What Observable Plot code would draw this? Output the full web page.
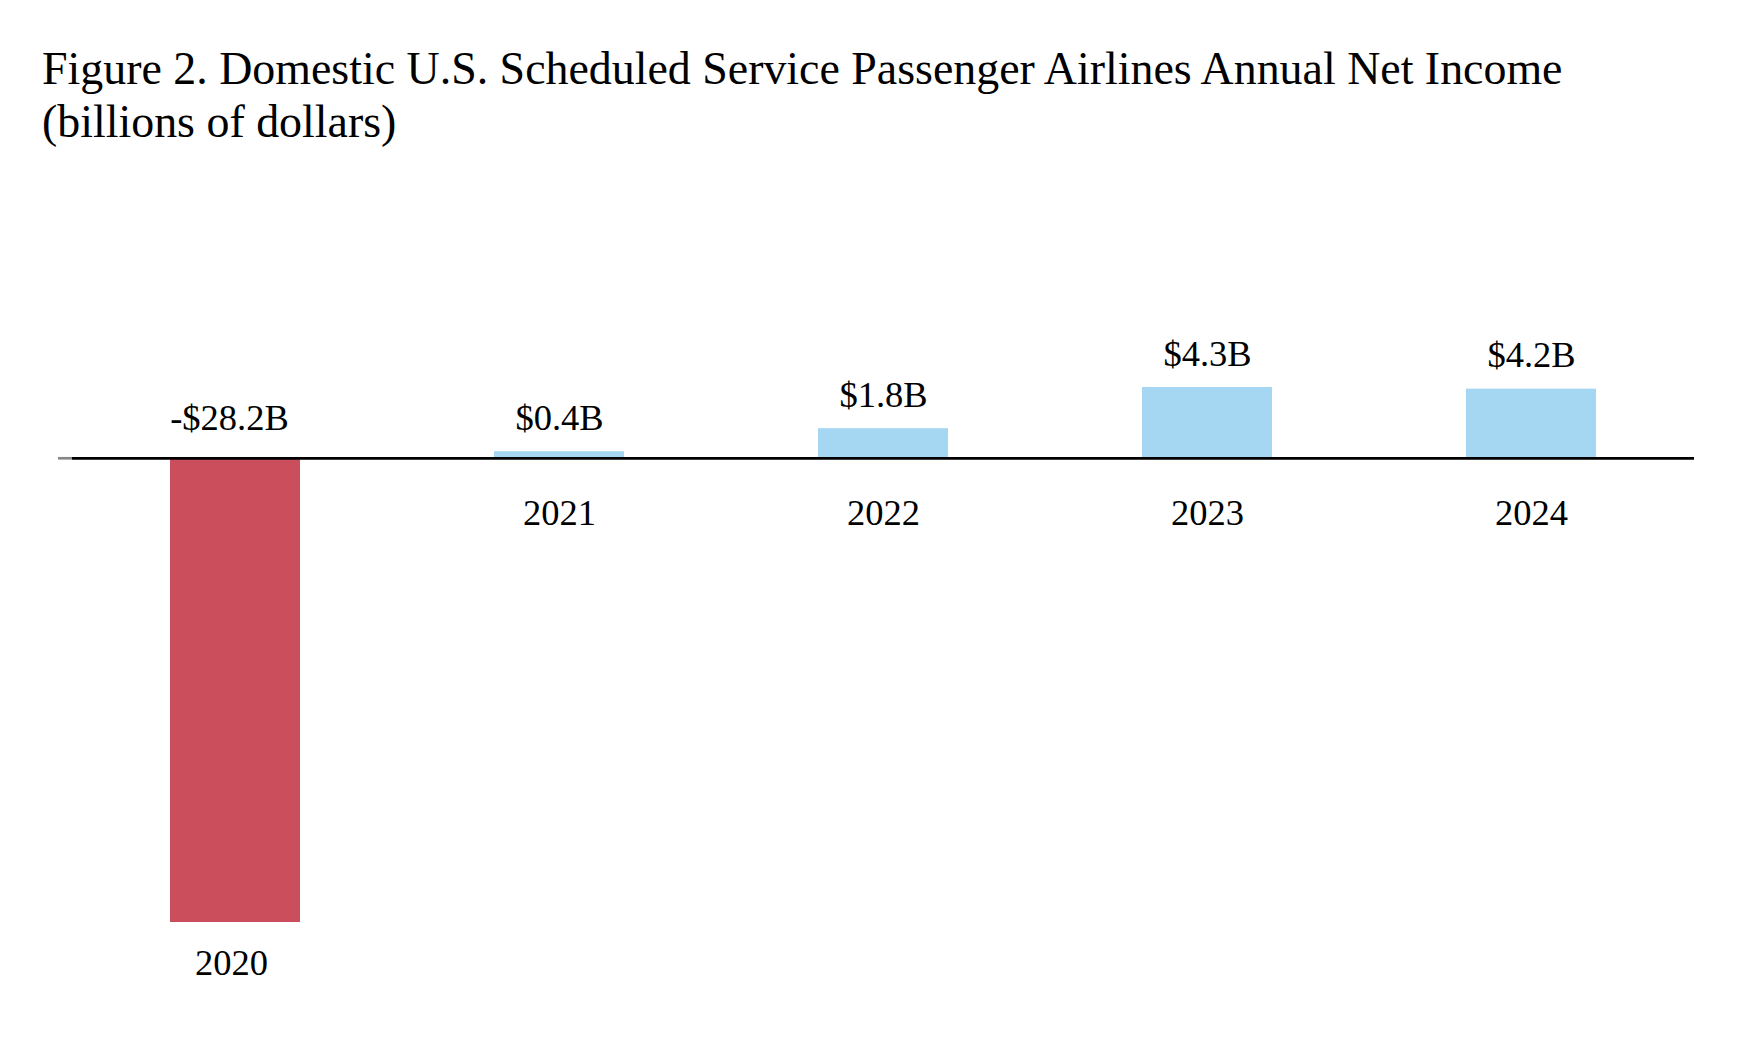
<!DOCTYPE html>
<html>
<head>
<meta charset="utf-8">
<script src="https://cdn.jsdelivr.net/npm/d3@7"></script>
<script src="https://cdn.jsdelivr.net/npm/@observablehq/plot@0.6"></script>
<style>
  html, body { margin: 0; padding: 0; background: #fff; }
  body { width: 1740px; height: 1037px; overflow: hidden; font-family: "Liberation Serif", "Times New Roman", serif; }
  #title { padding: 42px 0 0 42px; font-size: 45.9px; line-height: 53px; color: #000; height: 104px; }
  #chart svg { display: block; }
  #chart svg text { font-family: "Liberation Serif", "Times New Roman", serif !important; }
</style>
</head>
<body>
<div id="title">Figure 2. Domestic U.S. Scheduled Service Passenger Airlines Annual Net Income<br>(billions of dollars)</div>
<div id="chart"></div>
<script>
const years = ["2020", "2021", "2022", "2023", "2024"];
const netIncome = [-28.2, 0.4, 1.8, 4.3, 4.2];
const negColor = "#CA4E5C";
const posColor = "#A6D7F2";

const data = years.map((year, i) => ({year, value: netIncome[i]}));
const fmt = v => (v < 0 ? "-" : "") + "$" + Math.abs(v).toFixed(1) + "B";
const pos = data.filter(d => d.value >= 0);
const neg = data.filter(d => d.value < 0);

const font = {fontFamily: "Liberation Serif", fontSize: 36.5, fill: "#000"};

const chart = Plot.plot({
  width: 1740,
  height: 891,
  marginLeft: 72,
  marginRight: 46,
  marginTop: 241,
  marginBottom: 115,
  style: {fontFamily: "Liberation Serif", background: "#fff"},
  x: {domain: years, paddingInner: 0.6, paddingOuter: 0.3, axis: null, label: null},
  y: {domain: [d3.min(netIncome), d3.max(netIncome)], label: null},
  marks: [
    Plot.barY(data, {x: "year", y: "value", fill: d => d.value < 0 ? negColor : posColor}),
    Plot.ruleY([0], {stroke: "#000", strokeWidth: 2.7}),
    Plot.axisY({ticks: [0], tickSize: 14, tickFormat: () => "", label: null, stroke: "#888", strokeWidth: 2.7}),
    Plot.text(pos, {x: "year", y: "value", text: d => fmt(d.value), lineAnchor: "bottom", dy: -22, ...font}),
    Plot.text(neg, {x: "year", y: () => 0, text: d => fmt(d.value), lineAnchor: "bottom", dy: -28, dx: -6, ...font}),
    Plot.text(pos, {x: "year", y: () => 0, text: "year", lineAnchor: "bottom", dy: 67, ...font}),
    Plot.text(neg, {x: "year", y: "value", text: "year", lineAnchor: "bottom", dy: 52, dx: -4, ...font})
  ]
});
document.getElementById("chart").appendChild(chart);
</script>
</body>
</html>
